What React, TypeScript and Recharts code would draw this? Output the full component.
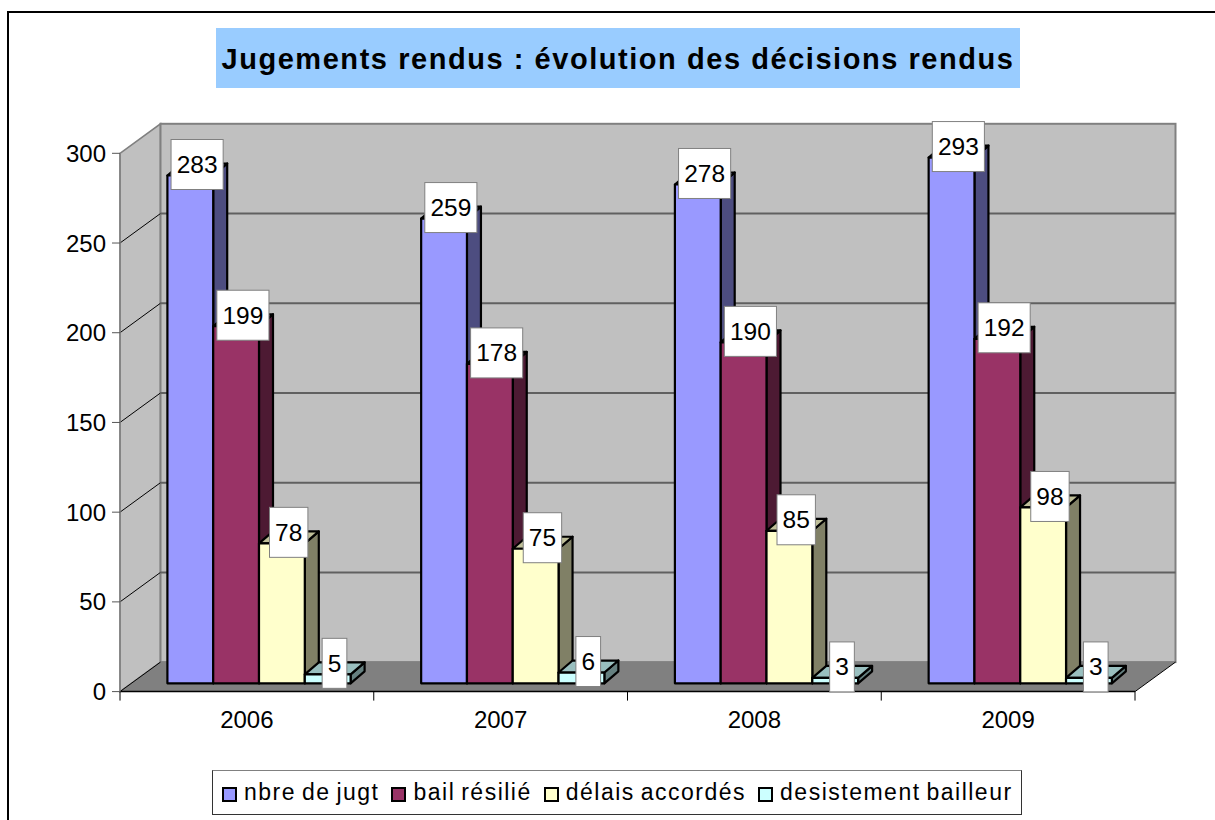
import { BarChart, Bar, XAxis, YAxis, LabelList, Legend } from "recharts"

const years = ["2006", "2007", "2008", "2009"]
const jugements = [283, 259, 278, 293]
const bailResilie = [199, 178, 190, 192]
const delaisAccordes = [78, 75, 85, 98]
const desistement = [5, 6, 3, 3]
const yTicks = [0, 50, 100, 150, 200, 250, 300]

const data = years.map((year, i) => ({
  year,
  jugements: jugements[i],
  bailResilie: bailResilie[i],
  delaisAccordes: delaisAccordes[i],
  desistement: desistement[i],
}))

const FONT = "'Liberation Sans', Arial, sans-serif"
const W = 1215
const H = 820
const LEFT = 120
const RIGHT = 1135
const TOP = 153.3
const BOTTOM = 691.6
// depth of the 3d box and of the bars
const WALL_DX = 40.5
const WALL_DY = 29.5
const BAR_DX = 14
const BAR_DY = 12
// bars sit on the floor, a bit behind the front edge
const SHIFT_X = 12.4
const SHIFT_Y = -8.3

const shade = (hex: string, k: number) => {
  const n = parseInt(hex.slice(1), 16)
  const c = [(n >> 16) & 255, (n >> 8) & 255, n & 255].map((v) => Math.round(v * k))
  return `rgb(${c[0]},${c[1]},${c[2]})`
}

const Box3D = ({ x, y, width, height, fill }: any) => {
  const l = x + SHIFT_X
  const t = y + SHIFT_Y
  const r = l + width
  const b = t + height
  return (
    <g stroke="#000" strokeWidth={2.2} strokeLinejoin="round">
      <polygon
        points={`${r},${t} ${r + BAR_DX},${t - BAR_DY} ${r + BAR_DX},${b - BAR_DY} ${r},${b}`}
        fill={shade(fill, 0.5)}
      />
      <polygon
        points={`${l},${t} ${l + BAR_DX},${t - BAR_DY} ${r + BAR_DX},${t - BAR_DY} ${r},${t}`}
        fill={shade(fill, 0.75)}
      />
      <rect x={l} y={t} width={width} height={height} fill={fill} />
    </g>
  )
}

const ValueLabel = (props: any) => {
  const vb = props.viewBox || props
  const text = String(props.value)
  const w = 11 + 13.7 * text.length
  const h = 50
  const cx = vb.x + vb.width / 2 + SHIFT_X + 6.8
  const cy = vb.y + SHIFT_Y - 11
  return (
    <g>
      <rect x={cx - w / 2} y={cy - h / 2} width={w} height={h} fill="#fff" stroke="#808080" strokeWidth={1} />
      <text x={cx} y={cy + 8.5} textAnchor="middle" fontSize={24.5} fontFamily={FONT} fill="#000">
        {text}
      </text>
    </g>
  )
}

const LegendBox = ({ payload }: any) => (
  <div
    style={{
      boxSizing: "border-box",
      width: 810,
      height: 45,
      border: "1px solid #333",
      borderTopColor: "#808080",
      background: "#fff",
      display: "flex",
      alignItems: "center",
      fontFamily: FONT,
      fontSize: 23,
      letterSpacing: 1.5,
      wordSpacing: -2,
      color: "#000",
      paddingLeft: 9,
      whiteSpace: "pre",
    }}
  >
    {(payload || []).map((p: any) => (
      <div key={p.value} style={{ display: "flex", alignItems: "center", marginRight: 12 }}>
        <span
          style={{
            boxSizing: "border-box",
            width: 15,
            height: 15,
            marginRight: 7,
            marginTop: 3,
            background: p.color,
            border: "2px solid #000",
          }}
        />
        {p.value}
      </div>
    ))}
  </div>
)

// frame, title and the walls and floor of the 3d box
const Backdrop = () => {
  const step = (BOTTOM - TOP) / (yTicks.length - 1)
  const bandW = (RIGHT - LEFT) / years.length
  return (
    <g>
      <path d={`M8 ${H} V12 H${W}`} fill="none" stroke="#000" strokeWidth={2} />
      <rect x={216} y={28} width={804} height={60} fill="#99ccff" />
      <text
        x={618}
        y={69}
        textAnchor="middle"
        fontFamily={FONT}
        fontWeight="bold"
        fontSize={29}
        letterSpacing={1.55}
        fill="#000"
      >
        Jugements rendus : évolution des décisions rendus
      </text>
      <polygon
        points={`${LEFT},${TOP} ${LEFT + WALL_DX},${TOP - WALL_DY} ${LEFT + WALL_DX},${BOTTOM - WALL_DY} ${LEFT},${BOTTOM}`}
        fill="#c0c0c0"
        stroke="#808080"
        strokeWidth={1.5}
      />
      <rect
        x={LEFT + WALL_DX}
        y={TOP - WALL_DY}
        width={RIGHT - LEFT}
        height={BOTTOM - TOP}
        fill="#c0c0c0"
        stroke="#808080"
        strokeWidth={2}
      />
      <polygon
        points={`${LEFT},${BOTTOM} ${LEFT + WALL_DX},${BOTTOM - WALL_DY} ${RIGHT + WALL_DX},${BOTTOM - WALL_DY} ${RIGHT},${BOTTOM}`}
        fill="#808080"
      />
      {yTicks.slice(1, -1).map((_, i) => {
        const y = BOTTOM - step * (i + 1)
        return (
          <g key={i}>
            <line x1={LEFT} y1={y} x2={LEFT + WALL_DX} y2={y - WALL_DY} stroke="#000" strokeWidth={1} />
            <line x1={LEFT + WALL_DX} y1={y - WALL_DY} x2={RIGHT + WALL_DX} y2={y - WALL_DY} stroke="#606060" strokeWidth={2} />
          </g>
        )
      })}
      <line x1={LEFT} y1={BOTTOM} x2={LEFT + WALL_DX} y2={BOTTOM - WALL_DY} stroke="#000" strokeWidth={1} />
      <line x1={RIGHT} y1={BOTTOM} x2={RIGHT + WALL_DX} y2={BOTTOM - WALL_DY} stroke="#000" strokeWidth={1} />
      <line x1={LEFT} y1={BOTTOM} x2={RIGHT} y2={BOTTOM} stroke="#000" strokeWidth={1.5} />
      {years.concat("").map((_, i) => (
        <line
          key={i}
          x1={LEFT + bandW * i}
          y1={BOTTOM}
          x2={LEFT + bandW * i}
          y2={BOTTOM + 9}
          stroke="#000"
          strokeWidth={1}
        />
      ))}
    </g>
  )
}

export default function App() {
  return (
    <div style={{ position: "absolute", left: 0, top: 0, width: W, height: H, overflow: "hidden", background: "#fff" }}>
      <BarChart
        width={W}
        height={H}
        data={data}
        barSize={45.8}
        barGap={0}
        margin={{ top: TOP, right: W - RIGHT, bottom: H - BOTTOM - 40, left: LEFT - 60 }}
      >
        <Backdrop />
        <XAxis
          dataKey="year"
          height={40}
          axisLine={false}
          tickLine={false}
          tickMargin={13}
          tick={{ fontSize: 24, fill: "#000", fontFamily: FONT }}
        />
        <YAxis
          width={60}
          domain={[0, 300]}
          ticks={yTicks}
          interval={0}
          tickSize={8}
          tickMargin={6}
          axisLine={{ stroke: "#808080", strokeWidth: 1.5 }}
          tickLine={{ stroke: "#555" }}
          tick={{ fontSize: 24, fill: "#000", fontFamily: FONT }}
        />
        <Legend
          layout="vertical"
          align="center"
          verticalAlign="middle"
          itemSorter={null}
          content={<LegendBox />}
          wrapperStyle={{ left: 212, top: 770, width: 810, height: 45 }}
        />
        <Bar dataKey="jugements" name="nbre de jugt" fill="#9999ff" shape={Box3D} isAnimationActive={false}>
          <LabelList dataKey="jugements" content={ValueLabel} />
        </Bar>
        <Bar dataKey="bailResilie" name="bail résilié" fill="#993366" shape={Box3D} isAnimationActive={false}>
          <LabelList dataKey="bailResilie" content={ValueLabel} />
        </Bar>
        <Bar dataKey="delaisAccordes" name="délais accordés" fill="#ffffcc" shape={Box3D} isAnimationActive={false}>
          <LabelList dataKey="delaisAccordes" content={ValueLabel} />
        </Bar>
        <Bar dataKey="desistement" name="desistement bailleur" fill="#ccffff" shape={Box3D} isAnimationActive={false}>
          <LabelList dataKey="desistement" content={ValueLabel} />
        </Bar>
      </BarChart>
    </div>
  )
}
